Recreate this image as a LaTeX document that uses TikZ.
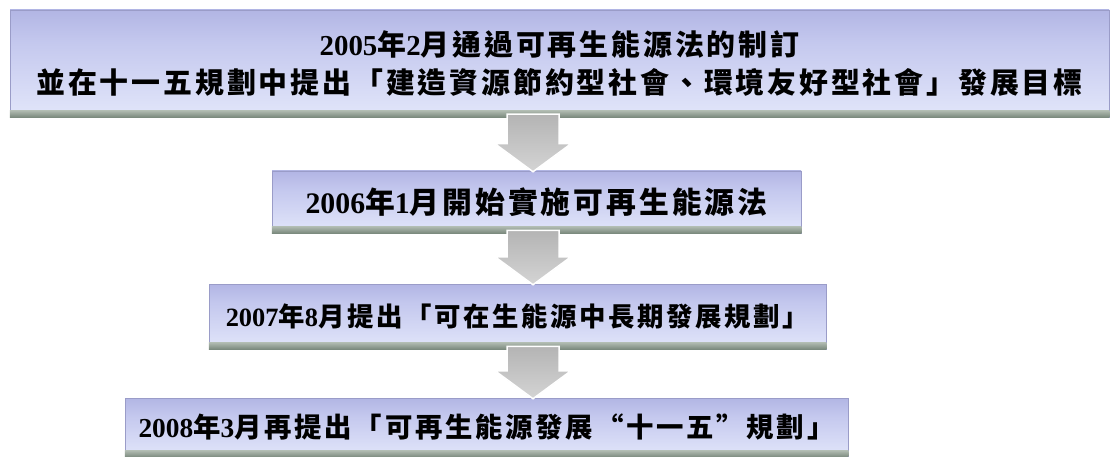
\documentclass[tikz,border=0pt]{standalone}
\usepackage{fontspec}
\setmainfont{Liberation Serif}
\newfontfamily\cjk[LetterSpace=10]{Noto Sans CJK TC}
\usetikzlibrary{calc}
\definecolor{bA}{HTML}{EEF1FD}
\definecolor{bB}{HTML}{E2E6FA}
\definecolor{bC}{HTML}{C4C8EE}
\definecolor{bD}{HTML}{A0A3DA}
\definecolor{bE}{HTML}{B8BAE4}
\definecolor{sA}{HTML}{5F6F62}
\definecolor{sB}{HTML}{CDD6CD}
\definecolor{aA}{HTML}{A4A4A4}
\definecolor{aB}{HTML}{E4E4E4}
\definecolor{bedge}{HTML}{9A9CC8}
\pgfdeclareverticalshading{boxsh}{100bp}{color(0bp)=(bA); color(25bp)=(bB); color(60bp)=(bC); color(90bp)=(bD); color(100bp)=(bE)}
\pgfdeclareverticalshading{stripsh}{100bp}{color(0bp)=(sA); color(100bp)=(sB)}
\pgfdeclareverticalshading{arrsh}{100bp}{color(0bp)=(aB); color(100bp)=(aA)}
\newcommand\C[1]{{\cjk\bfseries #1}}
\newcommand\fs[1]{\bfseries\fontsize{#1}{40}\selectfont}
\tikzset{
  box/.style={shading=boxsh, draw=bedge, line width=0.5pt, inner sep=0pt, align=center,
    font=\fs{29}, text=black},
  arr/.style={shading=arrsh, draw=white, line width=1.5pt, line join=miter},
}
\newcommand\strip[1]{\fill[shading=stripsh] ([yshift=7pt]#1.south west) rectangle (#1.south east);}
\newcommand\bigarrow[2]{\filldraw[arr]
  ([xshift=-26pt,yshift=3pt]ax |- #1.south) --
  ([xshift=-26pt,yshift=27pt]ax |- #2.north) --
  ([xshift=-38pt,yshift=27pt]ax |- #2.north) --
  ([yshift=-1pt]ax |- #2.north) --
  ([xshift=38pt,yshift=27pt]ax |- #2.north) --
  ([xshift=26pt,yshift=27pt]ax |- #2.north) --
  ([xshift=26pt,yshift=3pt]ax |- #1.south) -- cycle;}
\begin{document}
\begin{tikzpicture}[x=1pt,y=-1pt]
\useasboundingbox[fill=white] (0,0) rectangle (1110,457);
\coordinate (ax) at (533,0);
\node[box, font=\fs{28.9}, minimum width=1099pt, minimum height=107pt] (b1) at (559.5,63.5)
  {2005\C{年}2\C{月通過可再生能源法的制訂}\\[-2pt]\C{並在十一五規劃中提出「建造資源節約型社會、環境友好型社會」發展目標}};
\node[box, font=\fs{29.8}, minimum width=529pt, minimum height=62pt] (b2) at (536.5,202)
  {2006\C{年}1\C{月開始實施可再生能源法}};
\node[box, font=\fs{26.4}, minimum width=617pt, minimum height=65pt] (b3) at (517.5,316.5)
  {2007\C{年}8\C{月提出「可在生能源中長期發展規劃」}};
\node[box, font=\fs{27.4}, minimum width=723pt, minimum height=59pt] (b4) at (486.5,427.5)
  {2008\C{年}3\C{月再提出「可再生能源發展“十一五”規劃」}};
\strip{b1}\strip{b2}\strip{b3}\strip{b4}
\bigarrow{b1}{b2}
\bigarrow{b2}{b3}
\bigarrow{b3}{b4}
\end{tikzpicture}
\end{document}
